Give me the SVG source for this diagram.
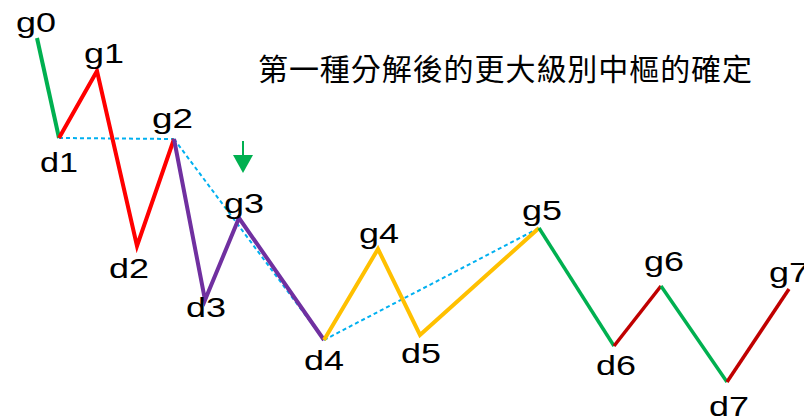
<svg xmlns="http://www.w3.org/2000/svg" width="804" height="418" viewBox="0 0 804 418">
<style>
.lbl{font-family:"Liberation Sans",Arial,sans-serif;font-size:28px;fill:#000}
.seg{fill:none;stroke-width:4;stroke-linejoin:miter;stroke-linecap:butt}
.thin{stroke-width:3.5}
.dash{fill:none;stroke:#00B0F0;stroke-width:2;stroke-dasharray:4 3}
.title{font-family:"Noto Sans CJK TC","Noto Sans CJK SC",sans-serif;font-size:30px;fill:#000}
</style>
<rect width="804" height="418" fill="#fff"/>
<g id="connectors">
<path class="dash" d="M59,138 L174,139"/>
<path class="dash" d="M174,139 L324,340"/>
<path class="dash" d="M324,340 L539,228"/>
<path class="seg" stroke="#00B050" d="M37,38 L59,138"/>
<path class="seg" stroke="#FF0000" d="M59,138 L97,71 L137,246 L174,139"/>
<path class="seg" stroke="#7030A0" d="M174,139 L205,300 L239,218 L324,340"/>
<path class="seg" stroke="#FFC000" d="M324,340 L378,249 L420,335 L539,228"/>
<path class="seg thin" stroke="#00B050" d="M539,228 L614,346"/>
<path class="seg thin" stroke="#C00000" d="M614,346 L661,286"/>
<path class="seg thin" stroke="#00B050" d="M661,286 L727,382"/>
<path class="seg thin" stroke="#C00000" d="M727,382 L789,289"/>
</g>
<g id="arrow">
<line x1="243" y1="141" x2="243" y2="160" stroke="#00B050" stroke-width="2"/>
<polygon points="233,155 253,155 243,173" fill="#00B050"/>
</g>
<g id="g0"><text class="lbl" x="16" y="32" textLength="40" lengthAdjust="spacingAndGlyphs">g0</text></g>
<g id="g1"><text class="lbl" x="84" y="63" textLength="40" lengthAdjust="spacingAndGlyphs">g1</text></g>
<g id="d1"><text class="lbl" x="40" y="172" textLength="38" lengthAdjust="spacingAndGlyphs">d1</text></g>
<g id="d2"><text class="lbl" x="109" y="278" textLength="40" lengthAdjust="spacingAndGlyphs">d2</text></g>
<g id="g2"><text class="lbl" x="152" y="128" textLength="41" lengthAdjust="spacingAndGlyphs">g2</text></g>
<g id="d3"><text class="lbl" x="186" y="317" textLength="40" lengthAdjust="spacingAndGlyphs">d3</text></g>
<g id="g3"><text class="lbl" x="224" y="213" textLength="40" lengthAdjust="spacingAndGlyphs">g3</text></g>
<g id="d4"><text class="lbl" x="304" y="370" textLength="40" lengthAdjust="spacingAndGlyphs">d4</text></g>
<g id="g4"><text class="lbl" x="359" y="243" textLength="40" lengthAdjust="spacingAndGlyphs">g4</text></g>
<g id="d5"><text class="lbl" x="401" y="363" textLength="40" lengthAdjust="spacingAndGlyphs">d5</text></g>
<g id="g5"><text class="lbl" x="522" y="220" textLength="40" lengthAdjust="spacingAndGlyphs">g5</text></g>
<g id="d6"><text class="lbl" x="596" y="375" textLength="40" lengthAdjust="spacingAndGlyphs">d6</text></g>
<g id="g6"><text class="lbl" x="644" y="271" textLength="40" lengthAdjust="spacingAndGlyphs">g6</text></g>
<g id="d7"><text class="lbl" x="709" y="416" textLength="40" lengthAdjust="spacingAndGlyphs">d7</text></g>
<g id="g7"><text class="lbl" x="769" y="282" textLength="40" lengthAdjust="spacingAndGlyphs">g7</text></g>
<g id="title"><text class="title" x="258" y="80" textLength="494" lengthAdjust="spacing">第一種分解後的更大級別中樞的確定</text></g>
</svg>
